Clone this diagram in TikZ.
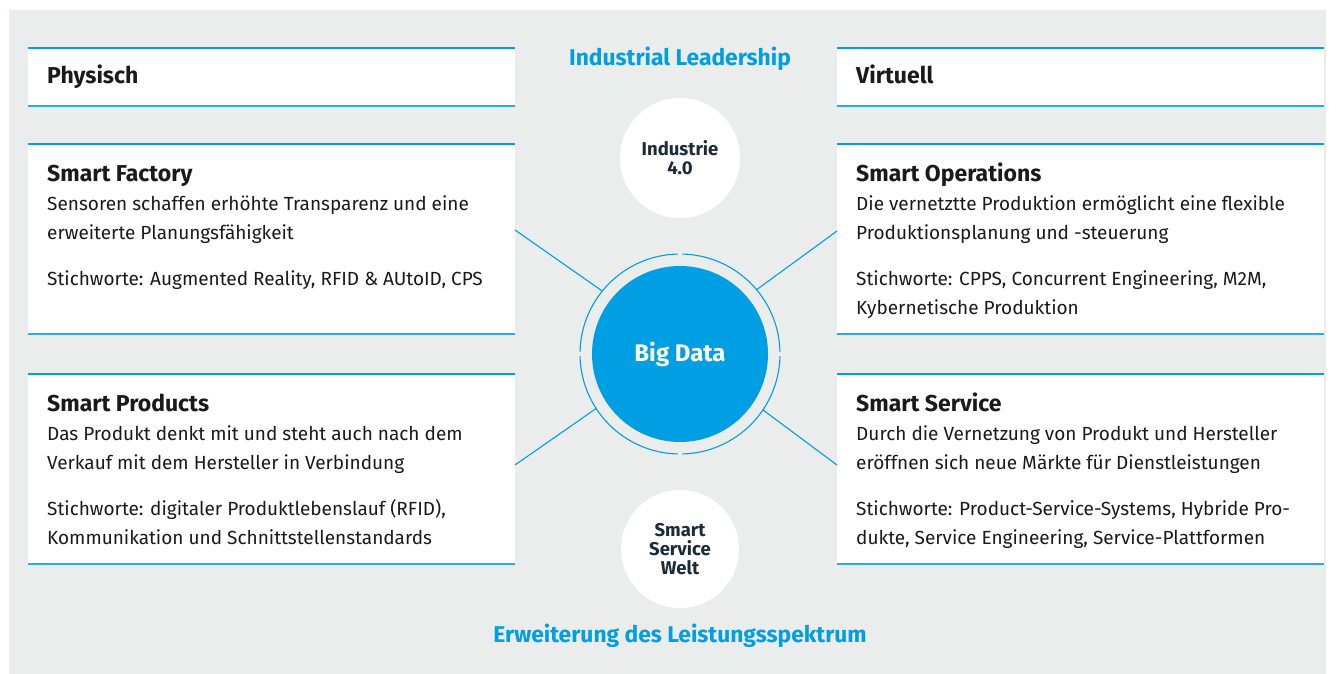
\documentclass[tikz,border=0pt]{standalone}
\usepackage{fontspec}
\setmainfont{Fira Sans}
\usetikzlibrary{positioning,calc}
\definecolor{ibblue}{HTML}{009FE3}
\definecolor{bggray}{HTML}{EBECEC}
\definecolor{inkdark}{HTML}{1A1A1A}
\definecolor{navy}{HTML}{1C2B39}
\tikzset{panel/.style={rectangle, fill=white, minimum width=487, minimum height=190, inner sep=0, outer sep=0}}
\tikzset{panelhead/.style={anchor=base west, inner sep=0, text=inkdark, font=\fontsize{23}{26}\selectfont\bfseries}}
\tikzset{paneltext/.style={anchor=north west, inner sep=0, text=inkdark, align=left, font=\fontsize{19}{29}\selectfont}}
\tikzset{topline/.style={draw=ibblue, line width=2.5pt}}
\tikzset{botline/.style={draw=ibblue!85, line width=1.2pt}}
\tikzset{spoke/.style={draw=ibblue, line width=1.1pt}}
\tikzset{hub/.style={circle, inner sep=0, align=center, font=\fontsize{18.5}{19}\selectfont\bfseries}}
\tikzset{title/.style={anchor=base, text=ibblue, font=\fontsize{22.8}{26}\selectfont\bfseries}}

\begin{document}
\begin{tikzpicture}[x=1pt,y=1pt]
	\useasboundingbox (0,0) rectangle (1341,-674);
	\fill[bggray] (9,-10) rectangle (1326,-674);

	\node[panel, minimum height=58, anchor=north west] (physisch) at (28,-48) {};
	\node[panel, below=38pt of physisch] (factory) {};
	\node[panel, below=40pt of factory] (products) {};
	\node[panel, minimum height=58, right=322pt of physisch] (virtuell) {};
	\node[panel, below=38pt of virtuell] (operations) {};
	\node[panel, below=40pt of operations] (service) {};

	\foreach \p in {physisch,factory,products,virtuell,operations,service}{
		\draw[topline] (\p.north west) -- (\p.north east);
		\draw[botline] (\p.south west) -- (\p.south east);
	}

	\node[panelhead] (physischhead) at ($(physisch.north west)+(19,-36)$) {Physisch};
	\node[panelhead] (virtuellhead) at ($(virtuell.north west)+(19,-36)$) {Virtuell};

	\node[panelhead] (factoryhead) at ($(factory.north west)+(19,-37)$) {Smart Factory};
	\node[paneltext] (factorytext) at ($(factoryhead.base west)+(0,-14)$)
		{Sensoren schaffen erhöhte Transparenz und eine\\erweiterte Planungsfähigkeit\\[17pt]Stichworte: Augmented Reality, RFID \& AUtoID, CPS};

	\node[panelhead] (productshead) at ($(products.north west)+(19,-37)$) {Smart Products};
	\node[paneltext] (productstext) at ($(productshead.base west)+(0,-14)$)
		{Das Produkt denkt mit und steht auch nach dem\\Verkauf mit dem Hersteller in Verbindung\\[17pt]Stichworte: digitaler Produktlebenslauf (RFID),\\Kommunikation und Schnittstellenstandards};

	\node[panelhead] (operationshead) at ($(operations.north west)+(19,-37)$) {Smart Operations};
	\node[paneltext] (operationstext) at ($(operationshead.base west)+(0,-14)$)
		{Die vernetztte Produktion ermöglicht eine flexible\\Produktionsplanung und -steuerung\\[17pt]Stichworte: CPPS, Concurrent Engineering, M2M,\\Kybernetische Produktion};

	\node[panelhead] (servicehead) at ($(service.north west)+(19,-37)$) {Smart Service};
	\node[paneltext] (servicetext) at ($(servicehead.base west)+(0,-14)$)
		{Durch die Vernetzung von Produkt und Hersteller\\eröffnen sich neue Märkte für Dienstleistungen\\[17pt]Stichworte: Product-Service-Systems, Hybride Pro-\\dukte, Service Engineering, Service-Plattformen};

	\node[hub, minimum size=120, fill=white, text=navy] (industrie) at (680,-158) {Industrie\\4.0};
	\node[hub, minimum size=176, fill=ibblue, text=white, font=\fontsize{24}{26}\selectfont\bfseries] (bigdata) at (680,-354) {Big Data};
	\node[circle, minimum size=200, inner sep=0] (ring) at (bigdata) {};
	\node[hub, minimum size=118, fill=white, text=navy] (welt) at (680,-549) {Smart\\Service\\Welt};

	\foreach \a in {0,90,180,270}
		\draw[spoke] ($(ring.center)+(\a+1.3:100)$) arc[start angle=\a+1.3, end angle=\a+88.7, radius=100];

	\draw[spoke] ([yshift=9pt]factory.east) -- (ring.141);
	\draw[spoke] ([yshift=4pt]products.east) -- (ring.213);
	\draw[spoke] ([yshift=8pt]operations.west) -- (ring.40);
	\draw[spoke] ([yshift=4pt]service.west) -- (ring.-34);

	\node[title] (leadership) at (680,-66) {Industrial Leadership};
	\node[title] (erweiterung) at (680,-642) {Erweiterung des Leistungsspektrum};
\end{tikzpicture}
\end{document}
